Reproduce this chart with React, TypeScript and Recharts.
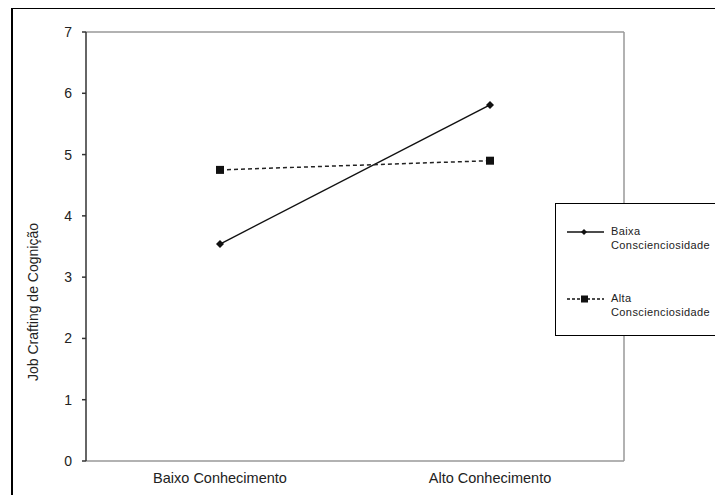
import React from 'react';
import { LineChart, Line, XAxis, YAxis, Legend, CartesianGrid } from 'recharts';

const categories = ['Baixo Conhecimento', 'Alto Conhecimento'];
const baixaConsc = [3.54, 5.81];
const altaConsc = [4.75, 4.9];
const yTicks = [0, 1, 2, 3, 4, 5, 6, 7];
const seriesKeys = ['baixa', 'alta'];
const seriesNames = ['Baixa Conscienciosidade', 'Alta Conscienciosidade'];

const data = categories.map((name, i) => ({ name, baixa: baixaConsc[i], alta: altaConsc[i] }));

const font = '"Liberation Sans", Arial, sans-serif';

const Diamond = (props: any) => {
  const { cx, cy, index } = props;
  if (cx == null || cy == null) return <g key={index} />;
  return <path key={index} d={`M${cx},${cy - 4}L${cx + 4},${cy}L${cx},${cy + 4}L${cx - 4},${cy}Z`} fill="#111" />;
};

const Square = (props: any) => {
  const { cx, cy, index } = props;
  if (cx == null || cy == null) return <g key={index} />;
  return <rect key={index} x={cx - 4} y={cy - 4} width={8} height={8} fill="#111" />;
};

const LegendIcon = ({ dashed }: { dashed: boolean }) => (
  <svg width={40} height={10} style={{ display: 'block' }}>
    <line x1={1} y1={5} x2={38} y2={5} stroke="#111" strokeWidth={1.3} strokeDasharray={dashed ? '3 2' : undefined} />
    {dashed
      ? <rect x={15} y={1.5} width={7} height={7} fill="#111" />
      : <path d="M18,2L21,5L18,8L15,5Z" fill="#111" />}
  </svg>
);

const renderLegend = (props: any) => {
  const payload = [...(props.payload || [])].sort(
    (a: any, b: any) => seriesKeys.indexOf(a.dataKey) - seriesKeys.indexOf(b.dataKey)
  );
  const tops = [21, 88];
  return (
    <div style={{ position: 'relative', width: 200, height: 133, border: '1.5px solid #000', boxSizing: 'border-box', background: '#fff' }}>
      {payload.map((entry: any, i: number) => (
        <div key={entry.value} style={{ position: 'absolute', left: 10, top: tops[i], display: 'flex', alignItems: 'flex-start' }}>
          <div style={{ marginTop: 2 }}><LegendIcon dashed={entry.dataKey === 'alta'} /></div>
          <div style={{ marginLeft: 5, width: 112, fontSize: 11, lineHeight: '13.5px', letterSpacing: 0.4, color: '#222', fontFamily: font }}>
            {entry.value}
          </div>
        </div>
      ))}
    </div>
  );
};

const YLabel = () => (
  <text x={33} y={302} transform="rotate(-90 33 302)" textAnchor="middle" dominantBaseline="central"
    fontSize={14} fill="#222" fontFamily={font}>
    Job Crafting de Cognição
  </text>
);

// only the top and right edges of the plot frame
const topEdge = ({ offset }: any) => [offset.top];
const rightEdge = ({ offset }: any) => [offset.left + offset.width];

export default function App() {
  return (
    <div style={{ position: 'relative', width: 723, height: 495, margin: '-8px 0 0 -8px', overflow: 'hidden', background: '#fff', fontFamily: font }}>
      <div style={{ position: 'absolute', left: 11, top: 7, width: 708, height: 600, border: '2px solid #000' }} />
      <div style={{ position: 'absolute', left: 0, top: 0 }}>
        <LineChart width={723} height={495} data={data} margin={{ top: 32, right: 99, bottom: 0, left: 0 }}>
          <CartesianGrid stroke="#999" strokeWidth={1.5} horizontalCoordinatesGenerator={topEdge}
            verticalCoordinatesGenerator={rightEdge} />
          <XAxis dataKey="name" height={34} padding={{ left: 134, right: 134 }} tickSize={0} tickMargin={12}
            stroke="#999" strokeWidth={1.5} tick={{ fontSize: 14.5, fill: '#222', fontFamily: font }} />
          <YAxis domain={[0, 7]} ticks={yTicks} width={86} tickSize={4} tickMargin={10} interval={0}
            stroke="#333" strokeWidth={1.5} tick={{ fontSize: 14, fill: '#222', fontFamily: font }}
            label={{ content: () => <YLabel /> }} />
          <Legend layout="horizontal" verticalAlign="middle" align="center" content={renderLegend}
            wrapperStyle={{ left: 555, top: 203, width: 200, height: 133 }} />
          <Line dataKey="baixa" name={seriesNames[0]} stroke="#111" strokeWidth={1.5} dot={Diamond}
            isAnimationActive={false} />
          <Line dataKey="alta" name={seriesNames[1]} stroke="#222" strokeWidth={1.5} strokeDasharray="4 3"
            dot={Square} isAnimationActive={false} />
        </LineChart>
      </div>
    </div>
  );
}
